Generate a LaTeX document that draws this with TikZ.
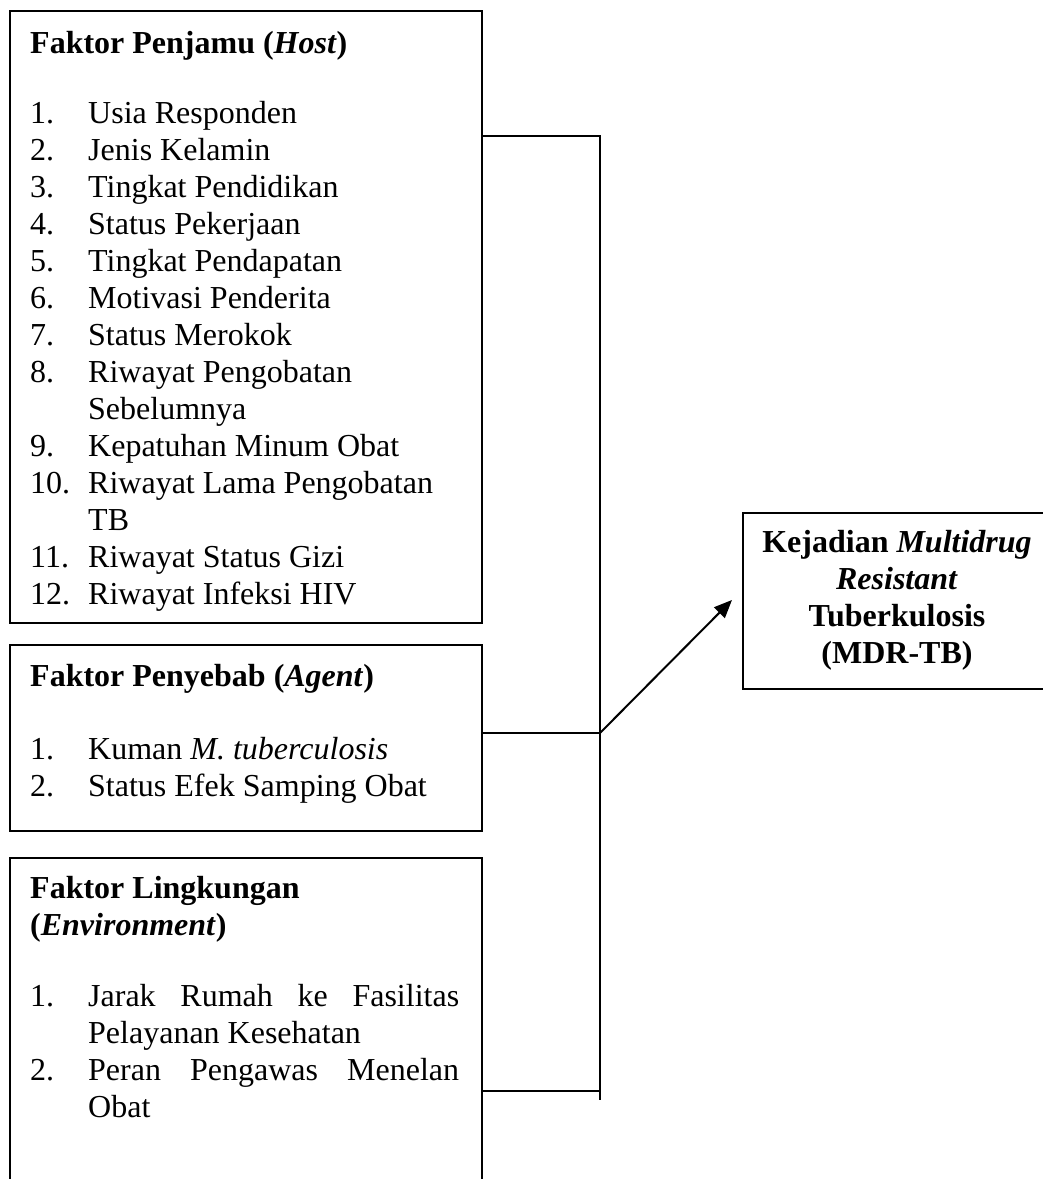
\documentclass[tikz,border=0pt]{standalone}
\usepackage{fontspec}
\setmainfont{Liberation Serif}
\usetikzlibrary{arrows.meta}
\begin{document}
\begin{tikzpicture}[x=1pt,y=-1pt,
  box/.style={draw, line width=2pt, rectangle, inner sep=0pt, anchor=north west},
  conn/.style={draw, line width=2pt},
  txt/.style={anchor=base west, inner sep=0pt, font=\fontsize{32}{37}\selectfont},
  ctxt/.style={anchor=base, inner sep=0pt, font=\fontsize{32}{37}\selectfont\bfseries}]
\useasboundingbox (0,0) rectangle (1043,1179);
% boxes
\node[box, minimum width=472pt, minimum height=612pt] (host) at (9,10) {};
\node[box, minimum width=472pt, minimum height=186pt] (agent) at (9,644) {};
\node[box, minimum width=472pt, minimum height=345pt] (env) at (9,857) {};
\node[box, minimum width=312pt, minimum height=176pt] (out) at (742,512) {};
% host text
\node[txt] (hh) at (30,53) {\textbf{Faktor Penjamu (\textit{Host})}};
\node[txt] (hn1) at (30,123) {1.};  \node[txt] (ht1) at (88,123) {Usia Responden};
\node[txt] (hn2) at (30,160) {2.};  \node[txt] (ht2) at (88,160) {Jenis Kelamin};
\node[txt] (hn3) at (30,197) {3.};  \node[txt] (ht3) at (88,197) {Tingkat Pendidikan};
\node[txt] (hn4) at (30,234) {4.};  \node[txt] (ht4) at (88,234) {Status Pekerjaan};
\node[txt] (hn5) at (30,271) {5.};  \node[txt] (ht5) at (88,271) {Tingkat Pendapatan};
\node[txt] (hn6) at (30,308) {6.};  \node[txt] (ht6) at (88,308) {Motivasi Penderita};
\node[txt] (hn7) at (30,345) {7.};  \node[txt] (ht7) at (88,345) {Status Merokok};
\node[txt] (hn8) at (30,382) {8.};  \node[txt] (ht8) at (88,382) {Riwayat Pengobatan};
\node[txt] (ht8b) at (88,419) {Sebelumnya};
\node[txt] (hn9) at (30,456) {9.};  \node[txt] (ht9) at (88,456) {Kepatuhan Minum Obat};
\node[txt] (hn10) at (30,493) {10.}; \node[txt] (ht10) at (88,493) {Riwayat Lama Pengobatan};
\node[txt] (ht10b) at (88,530) {TB};
\node[txt] (hn11) at (30,567) {11.}; \node[txt] (ht11) at (88,567) {Riwayat Status Gizi};
\node[txt] (hn12) at (30,604) {12.}; \node[txt] (ht12) at (88,604) {Riwayat Infeksi HIV};
% agent text
\node[txt] (ah) at (30,686) {\textbf{Faktor Penyebab (\textit{Agent})}};
\node[txt] (an1) at (30,759) {1.}; \node[txt] (at1) at (88,759) {Kuman \textit{M. tuberculosis}};
\node[txt] (an2) at (30,796) {2.}; \node[txt] (at2) at (88,796) {Status Efek Samping Obat};
% environment text
\node[txt] (eh1) at (30,898) {\textbf{Faktor Lingkungan}};
\node[txt] (eh2) at (30,935) {\textbf{(\textit{Environment})}};
\node[txt] (en1) at (30,1006) {1.}; \node[txt] (et1) at (88,1006) {\makebox[371pt][s]{Jarak Rumah ke Fasilitas}};
\node[txt] (et1b) at (88,1043) {Pelayanan Kesehatan};
\node[txt] (en2) at (30,1080) {2.}; \node[txt] (et2) at (88,1080) {\makebox[371pt][s]{Peran Pengawas Menelan}};
\node[txt] (et2b) at (88,1117) {Obat};
% outcome text
\node[ctxt] (o1) at (897,552) {Kejadian \textit{Multidrug}};
\node[ctxt] (o2) at (897,589) {\textit{Resistant}};
\node[ctxt] (o3) at (897,626) {Tuberkulosis};
\node[ctxt] (o4) at (897,663) {(MDR-TB)};
% connectors
\coordinate (jH) at (600,136);
\coordinate (jA) at (600,733);
\coordinate (jE) at (600,1091);
\coordinate (vEnd) at (600,1100);
\coordinate (tip) at (732,600);
\draw[conn] (host.east |- jH) -- (jH) -- (vEnd);
\draw[conn] (agent.east |- jA) -- (jA);
\draw[conn] (env.east |- jE) -- (jE);
\draw[conn, -{Triangle[length=18pt,width=15pt]}] (jA) -- (tip);
\end{tikzpicture}
\end{document}
